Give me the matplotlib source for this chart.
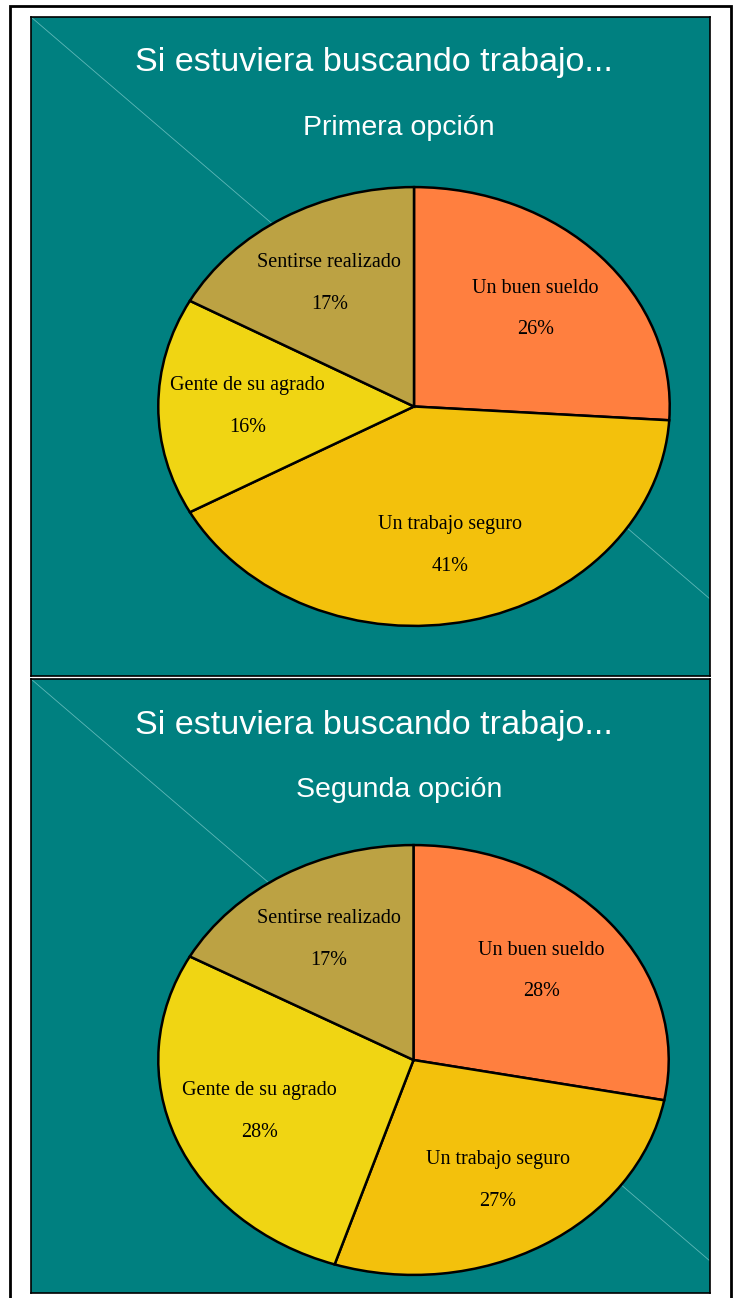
import numpy as np
import matplotlib.pyplot as plt
from matplotlib.patches import Rectangle

# Datos
titulo = 'Si estuviera buscando trabajo...'
subtitulos = ['Primera opción', 'Segunda opción']
categorias = ['Un buen sueldo', 'Un trabajo seguro', 'Gente de su agrado', 'Sentirse realizado']
primera_opcion = [26, 41, 16, 17]
segunda_opcion = [28, 27, 28, 17]

colores = ['#FF7F3F', '#F3C10C', '#F0D513', '#BCA243']
TEAL = '#008080'
W, H = 734, 1298


def fig_box(x0, y0, x1, y1):
    """Convierte una caja en pixeles (desde arriba) a coordenadas de figura."""
    return [x0 / W, 1 - y1 / H, (x1 - x0) / W, (y1 - y0) / H]


def draw_panel(fig, panel, pie_px, subtitulo, valores, diag_end):
    ax = fig.add_axes(fig_box(*panel))
    ax.set_facecolor(TEAL)
    ax.set_xticks([])
    ax.set_yticks([])
    for s in ax.spines.values():
        s.set_color('black')
        s.set_linewidth(1.2)
    ax.set_xlim(0, 1)
    ax.set_ylim(0, 1)
    # linea diagonal tenue
    ax.plot([0, 1], [1, 1 - diag_end], color='#5FB8B8', lw=0.6)

    ph = panel[3] - panel[1]
    ax.text(0.505, 1 - 46 / ph, titulo, color='white', fontsize=24.6,
            family='Liberation Sans', ha='center', va='center')
    ax.text(0.542, 1 - 111 / ph, subtitulo, color='white', fontsize=20.5,
            family='Liberation Sans', ha='center', va='center')

    pax = fig.add_axes(fig_box(*pie_px))
    wedges, _ = pax.pie(valores, colors=colores, startangle=90, counterclock=False,
                        wedgeprops=dict(edgecolor='black', linewidth=1.8))
    pax.set_aspect('auto')
    pax.set_xlim(-1.005, 1.005)
    pax.set_ylim(-1.005, 1.005)
    pax.axis('off')

    for w, cat, v in zip(wedges, categorias, valores):
        ang = np.deg2rad((w.theta1 + w.theta2) / 2)
        x, y = 0.65 * np.cos(ang), 0.65 * np.sin(ang)
        pax.annotate(cat, (x, y), xytext=(0, 15), textcoords='offset points',
                     ha='center', va='center', fontsize=14.5, family='Liberation Serif')
        pax.annotate(f'{v}%', (x, y), xytext=(0, -15), textcoords='offset points',
                     ha='center', va='center', fontsize=14.5, family='Liberation Serif')


fig = plt.figure(figsize=(W / 100, H / 100), dpi=100)
fig.patch.set_facecolor('white')
# marco exterior (sin borde inferior visible)
fig.add_artist(Rectangle((10 / W, -0.01), 721 / W, 1.01 - 6 / H, transform=fig.transFigure,
                         fill=False, edgecolor='black', linewidth=2))

draw_panel(fig, (31, 17, 710, 676), (157, 186, 671, 627), subtitulos[0],
           primera_opcion, 582 / 659)
draw_panel(fig, (31, 679, 710, 1293), (157, 844, 670, 1276), subtitulos[1],
           segunda_opcion, 582 / 614)

fig.savefig('out.png', dpi=100, facecolor='white')
